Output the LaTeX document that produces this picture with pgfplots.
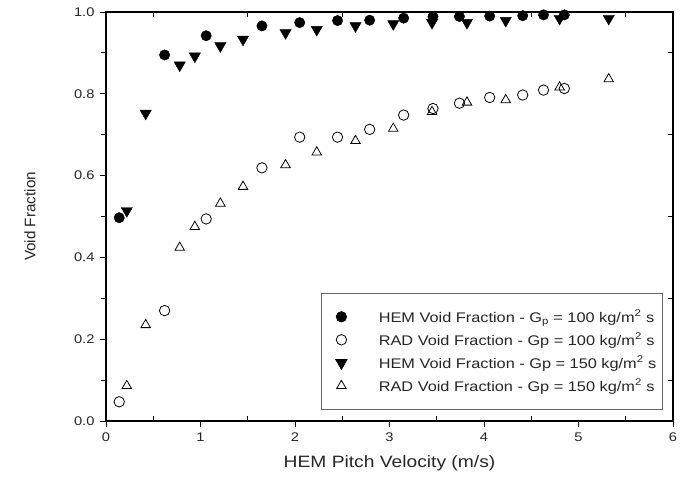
\documentclass[border=0pt]{standalone}
\usepackage{fontspec}
\setmainfont{Liberation Sans}[FakeStretch=1.17]
\newfontfamily\plainfont{Liberation Sans}
\usepackage{pgfplots}
\usepackage{pgfplotstable}
\pgfplotsset{compat=1.18}

% HEM void fraction, Gp = 100
\pgfplotstableread{
x y
0.14 0.497
0.62 0.895
1.06 0.942
1.65 0.966
2.05 0.974
2.45 0.979
2.79 0.980
3.15 0.985
3.46 0.989
3.74 0.989
4.06 0.990
4.41 0.991
4.63 0.993
4.85 0.993
}\hemA
% RAD void fraction, Gp = 100
\pgfplotstableread{
x y
0.14 0.047
0.62 0.270
1.06 0.494
1.65 0.619
2.05 0.694
2.45 0.694
2.79 0.713
3.15 0.748
3.46 0.764
3.74 0.777
4.06 0.791
4.41 0.797
4.63 0.809
4.85 0.813
}\radA
% HEM void fraction, Gp = 150
\pgfplotstableread{
x y
0.22 0.514
0.42 0.752
0.78 0.870
0.94 0.892
1.21 0.917
1.45 0.933
1.90 0.949
2.23 0.957
2.64 0.966
3.04 0.971
3.45 0.974
3.82 0.974
4.23 0.979
4.80 0.984
5.32 0.984
}\hemB
% RAD void fraction, Gp = 150
\pgfplotstableread{
x y
0.22 0.086
0.42 0.235
0.78 0.424
0.94 0.475
1.21 0.532
1.45 0.573
1.90 0.626
2.23 0.657
2.64 0.685
3.04 0.715
3.45 0.756
3.82 0.779
4.23 0.785
4.80 0.816
5.32 0.836
}\radB

\begin{document}
\begin{tikzpicture}
\useasboundingbox (-106bp,-70bp) rectangle (583bp,421bp);
\begin{axis}[
    width=567bp, height=409bp, scale only axis,
    xmin=0, xmax=6, ymin=0, ymax=1,
    xtick={0,1,...,6}, ytick={0,0.2,...,1.0},
    minor y tick num=1,
    tick pos=left, tick align=outside,
    major tick length=6bp, minor tick length=5bp,
    tick style={black, line width=0.9bp},
    axis line style={black, line width=1.6bp},
    /pgf/number format/assume math mode=true,
    xticklabel={\fontsize{12.6}{15}\selectfont\pgfmathprintnumber{\tick}},
    yticklabel={\fontsize{12.6}{15}\selectfont\pgfmathprintnumber[fixed,fixed zerofill,precision=1]{\tick}},
    every tick label/.append style={text=black!85},
    xticklabel style={yshift=-2bp},
    yticklabel style={xshift=-2bp},
    xlabel={HEM Pitch Velocity (m/s)},
    ylabel={\plainfont\fontsize{15.3}{18}\selectfont Void Fraction},
    label style={black!85},
    xlabel style={font=\fontsize{16.5}{19}\selectfont, at={(axis description cs:0.5,-0.103)}, anchor=center},
    ylabel style={at={(axis description cs:-0.134,0.5)}, anchor=center},
    legend style={at={(0.982,0.027)}, anchor=south east,
        draw=black!60, line width=0.8bp, inner xsep=4bp, inner ysep=15bp,
        font=\fontsize{14}{16}\selectfont, row sep=5.5bp, text=black!85},
    legend image code/.code={
        \path (-13bp,0bp) (38bp,0bp);
        \draw[#1] plot coordinates {(3bp,0bp)};
    },
    legend cell align=left,
    clip=false,
]
\addplot[only marks, mark=*, mark size=5.2bp, mark options={fill=black, draw=black}] table {\hemA};
\addlegendentry{HEM Void Fraction - G\textsubscript{p} = 100 kg/m\textsuperscript{2} s}
\addplot[only marks, mark=o, mark size=5.2bp, mark options={draw=black, line width=0.8bp}] table {\radA};
\addlegendentry{RAD Void Fraction - Gp = 100 kg/m\textsuperscript{2} s}
\addplot[only marks, mark=triangle*, mark size=6.5bp, mark options={rotate=180, fill=black, draw=black}] table {\hemB};
\addlegendentry{HEM Void Fraction - Gp = 150 kg/m\textsuperscript{2} s}
\addplot[only marks, mark=triangle, mark size=5.5bp, mark options={draw=black, line width=0.8bp}] table {\radB};
\addlegendentry{RAD Void Fraction - Gp = 150 kg/m\textsuperscript{2} s}
\end{axis}
% minor ticks pointing inward on bottom, top and right
\begin{axis}[
    width=567bp, height=409bp, scale only axis,
    xmin=0, xmax=6, ymin=0, ymax=1,
    axis line style={draw=none},
    xtick={0.5,1.5,...,5.5}, ytick={0.1,0.3,...,0.9},
    xticklabels={}, yticklabels={},
    xtick pos=both, ytick pos=right, tick align=inside,
    major tick length=5bp,
    tick style={black, line width=0.9bp},
]
\end{axis}
\end{tikzpicture}
\end{document}
